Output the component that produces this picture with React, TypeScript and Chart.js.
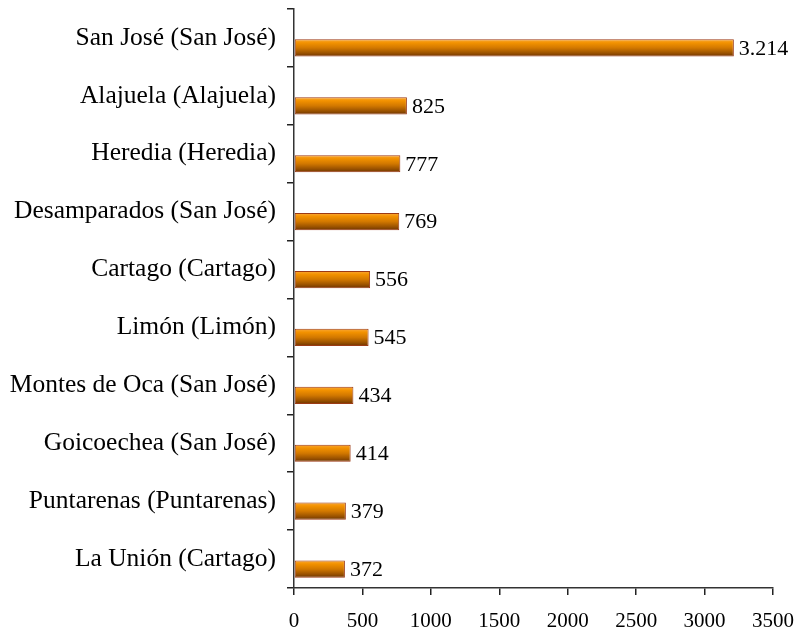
import React, { useEffect, useRef } from "react";
import { Chart, registerables } from "chart.js";

Chart.register(...registerables);

const categories = [
  "San José (San José)",
  "Alajuela (Alajuela)",
  "Heredia (Heredia)",
  "Desamparados (San José)",
  "Cartago (Cartago)",
  "Limón (Limón)",
  "Montes de Oca (San José)",
  "Goicoechea (San José)",
  "Puntarenas (Puntarenas)",
  "La Unión (Cartago)",
];
const values = [3214, 825, 777, 769, 556, 545, 434, 414, 379, 372];
const xTicks = [0, 500, 1000, 1500, 2000, 2500, 3000, 3500];

const CAT_PCT = 0.69;
const BAR_PCT = 0.86;
const FONT = "'Liberation Serif', 'Times New Roman', serif";

function fmt(v: number) {
  return String(v).replace(/\B(?=(\d{3})+(?!\d))/g, ".");
}

export default function App() {
  const ref = useRef<HTMLCanvasElement | null>(null);
  useEffect(() => {
    document.body.style.margin = "0";
    const canvas = ref.current!;
    const gradientPlugin = {
      id: "barGradient",
      beforeDatasetsDraw(chart: any) {
        const meta = chart.getDatasetMeta(1);
        const c = chart.ctx;
        meta.data.forEach((el: any) => {
          const top = el.y - el.height / 2;
          const bottom = el.y + el.height / 2;
          if (!Number.isFinite(top) || !Number.isFinite(bottom)) return;
          const g = c.createLinearGradient(0, top, 0, bottom);
          g.addColorStop(0, "#F9A93A");
          g.addColorStop(0.2, "#F39200");
          g.addColorStop(0.5, "#D27800");
          g.addColorStop(0.8, "#9A5200");
          g.addColorStop(1, "#6E3400");
          el.options = { ...el.options, backgroundColor: g };
        });
      },
    };
    const labelPlugin = {
      id: "valueLabels",
      afterDatasetsDraw(chart: any) {
        const meta = chart.getDatasetMeta(1);
        const c = chart.ctx;
        c.save();
        c.font = `22px ${FONT}`;
        c.fillStyle = "#000";
        c.textAlign = "left";
        c.textBaseline = "middle";
        meta.data.forEach((el: any, i: number) => {
          c.fillText(fmt(values[i]), el.x + 5, el.y + 1);
        });
        c.restore();
      },
    };
    const chart = new Chart(canvas, {
      type: "bar",
      data: {
        labels: categories,
        datasets: [
          {
            data: categories.map(() => null),
            backgroundColor: "rgba(0,0,0,0)",
          },
          {
            data: values,
            borderColor: "#9C3A14",
            borderWidth: 1,
            borderSkipped: false,
            backgroundColor: "#E08000",
          },
        ],
      },
      options: {
        indexAxis: "y",
        animation: false,
        responsive: false,
        maintainAspectRatio: false,
        layout: { padding: { top: 9, right: 25, left: 0, bottom: 0 } },
        datasets: {
          bar: { categoryPercentage: CAT_PCT, barPercentage: BAR_PCT },
        },
        plugins: {
          legend: { display: false },
          tooltip: { enabled: false },
          title: { display: false },
        },
        scales: {
          x: {
            type: "linear",
            min: 0,
            max: 3500,
            afterBuildTicks: (scale: any) => {
              scale.ticks = xTicks.map((v) => ({ value: v }));
            },
            afterFit: (scale: any) => {
              scale.height = 48;
            },
            grid: {
              drawOnChartArea: false,
              drawTicks: true,
              tickLength: 7,
              color: "#222",
              lineWidth: 1.5,
            },
            border: { display: true, color: "#333", width: 1.5 },
            ticks: {
              color: "#000",
              font: { family: FONT, size: 21 },
              padding: 14,
              maxRotation: 0,
              autoSkip: false,
              callback: (v: any) => String(v),
            },
          },
          y: {
            type: "category",
            afterFit: (scale: any) => {
              scale.width = 294;
              scale.paddingTop = 0;
              scale.paddingBottom = 0;
            },
            grid: {
              offset: true,
              drawOnChartArea: false,
              drawTicks: true,
              tickLength: 7,
              color: "#222",
              lineWidth: 1.5,
            },
            border: { display: true, color: "#333", width: 1.5 },
            ticks: {
              color: "#000",
              font: { family: FONT, size: 25.5 },
              padding: 11,
              autoSkip: false,
            },
          },
        },
      },
      plugins: [gradientPlugin, labelPlugin],
    });
    return () => chart.destroy();
  }, []);
  return (
    <div style={{ width: 808, height: 636 }}>
      <canvas ref={ref} width={808} height={636} style={{ display: "block" }} />
    </div>
  );
}
